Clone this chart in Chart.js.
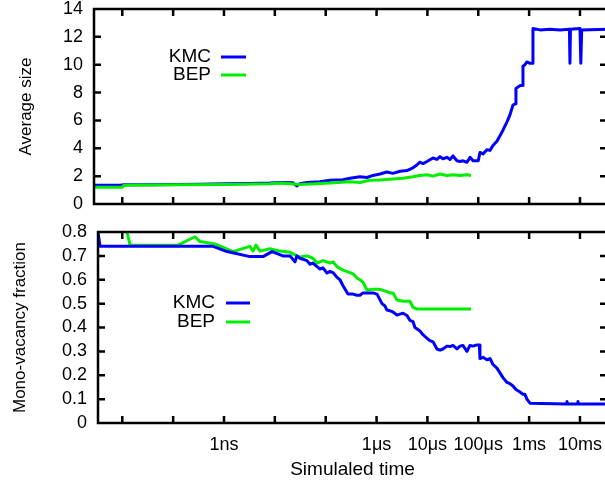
<!DOCTYPE html>
<html>
<head>
<meta charset="utf-8">
<title>Average size and mono-vacancy fraction</title>
<script src="https://cdn.jsdelivr.net/npm/chart.js"></script>
<style>
  html, body { margin: 0; padding: 0; background: #fff; overflow: hidden; }
  #wrap { position: relative; width: 605px; height: 486px; overflow: hidden; }
  canvas { position: absolute; left: 0; }
  #sizeChart { top: 0; }
  #monoChart { top: 220px; }
</style>
</head>
<body>
<div id="wrap">
  <canvas id="sizeChart" width="620" height="214"></canvas>
  <canvas id="monoChart" width="620" height="266"></canvas>
</div>
<script>
// time axis (seconds, log scale)
const timeTicks = [1e-11, 1e-10, 1e-9, 1e-8, 1e-7, 1e-6, 1e-5, 1e-4, 1e-3, 1e-2];
const timeTickLabels = { '1e-9': '1ns', '1e-6': '1μs', '1e-5': '10μs', '1e-4': '100μs', '1e-3': '1ms', '1e-2': '10ms' };
const timeMax = 3.4e-2;

// average cluster size
const sizeKmcTime = [2.78e-12, 9.0e-12, 1.08e-11, 3.5e-11, 1.25e-10, 3.4e-10, 1.15e-9, 3.2e-9, 8.0e-9, 1.26e-8, 2.27e-8,
  2.7e-8, 3.1e-8, 4.3e-8, 7.7e-8, 1.21e-7, 2.19e-7, 3.0e-7, 4.7e-7, 6.5e-7, 8.5e-7, 1.17e-6, 1.6e-6, 2.1e-6, 2.9e-6,
  3.96e-6, 5.2e-6, 6.2e-6, 7.1e-6, 8.2e-6, 9.8e-6, 1.29e-5, 1.54e-5, 1.77e-5, 2.02e-5, 2.42e-5, 2.78e-5, 3.18e-5,
  3.81e-5, 4.37e-5, 5.0e-5, 6.0e-5, 6.9e-5, 7.9e-5, 9.4e-5, 1.0e-4, 1.08e-4, 1.24e-4, 1.48e-4, 1.7e-4, 1.95e-4, 2.33e-4,
  2.67e-4, 3.06e-4, 3.67e-4, 4.2e-4, 4.81e-4, 5.4e-4, 5.51e-4, 6.04e-4, 6.61e-4, 7.4e-4, 7.57e-4, 8.28e-4, 9.06e-4,
  1.04e-3, 1.17e-3, 1.19e-3, 1.63e-3, 2.57e-3, 4.04e-3, 6.2e-3, 6.35e-3, 6.5e-3, 1.0e-2, 1.04e-2, 1.08e-2, 3.4e-2];
const sizeKmc = [1.35, 1.35, 1.38, 1.38, 1.4, 1.42, 1.45, 1.48, 1.5, 1.55, 1.52,
  1.3, 1.45, 1.55, 1.6, 1.7, 1.75, 1.85, 1.95, 1.9, 2.05, 2.15, 2.3, 2.2, 2.35,
  2.4, 2.6, 2.8, 3.0, 2.9, 3.05, 3.3, 3.2, 3.4, 3.25, 3.35, 3.2, 3.45,
  3.1, 3.05, 3.1, 3.0, 3.35, 3.1, 3.1, 3.1, 3.7, 3.6, 3.9, 3.85, 4.2, 4.5,
  4.9, 5.3, 5.9, 6.4, 7.1, 7.2, 8.3, 8.4, 8.5, 8.5, 9.9, 10.0, 10.2,
  10.1, 10.1, 12.6, 12.5, 12.55, 12.5, 12.55, 10.1, 12.55, 12.6, 10.1, 12.5, 12.55];
const sizeBepTime = [2.78e-12, 1.0e-11, 1.08e-11, 1.25e-10, 1.15e-9, 8.0e-9, 1.26e-8, 3.1e-8, 1.21e-7, 3.0e-7, 4.7e-7,
  7.4e-7, 1.17e-6, 2.1e-6, 3.3e-6, 5.2e-6, 7.1e-6, 9.8e-6, 1.29e-5, 1.77e-5, 2.42e-5, 3.18e-5, 4.37e-5, 6.0e-5, 7.2e-5];
const sizeBep = [1.2, 1.2, 1.35, 1.38, 1.4, 1.45, 1.5, 1.4, 1.5, 1.6, 1.55,
  1.7, 1.72, 1.8, 1.85, 1.95, 2.05, 2.1, 2.0, 2.15, 2.05, 2.1, 2.05, 2.1, 2.05];

// mono-vacancy fraction
const monoKmcTime = [3.33e-12, 3.65e-12, 6.1e-10, 1.15e-9, 3.24e-9, 5.85e-9, 8.8e-9, 1.44e-8, 1.99e-8, 2.49e-8, 2.72e-8,
  3.12e-8, 4.28e-8, 4.91e-8, 5.62e-8, 6.74e-8, 7.72e-8, 8.85e-8, 1.06e-7, 1.21e-7, 1.39e-7, 1.67e-7, 1.91e-7, 2.19e-7,
  2.74e-7, 3.44e-7, 4.12e-7, 4.72e-7, 5.41e-7, 6.48e-7, 8.51e-7, 1.02e-6, 1.28e-6, 1.47e-6, 1.6e-6, 1.84e-6, 2.1e-6,
  2.52e-6, 3.31e-6, 3.96e-6, 4.54e-6, 5.2e-6, 5.69e-6, 7.14e-6, 8.18e-6, 9.8e-6, 1.12e-5, 1.29e-5, 1.54e-5, 1.77e-5,
  2.02e-5, 2.42e-5, 2.78e-5, 3.18e-5, 3.81e-5, 4.37e-5, 5.0e-5, 6.0e-5, 6.87e-5, 7.87e-5, 9.42e-5, 1.05e-4, 1.08e-4,
  1.24e-4, 1.48e-4, 1.7e-4, 1.95e-4, 2.33e-4, 2.67e-4, 3.06e-4, 3.67e-4, 4.2e-4, 4.81e-4, 5.51e-4, 6.61e-4, 7.57e-4,
  8.28e-4, 9.06e-4, 1.04e-3, 5.4e-3, 5.55e-3, 5.7e-3, 9.0e-3, 9.12e-3, 9.3e-3, 3.4e-2];
const monoKmc = [0.8, 0.74, 0.74, 0.718, 0.697, 0.697, 0.718, 0.7, 0.7, 0.675, 0.7,
  0.69, 0.68, 0.665, 0.67, 0.655, 0.645, 0.65, 0.628, 0.635, 0.63, 0.61, 0.6, 0.575,
  0.54, 0.54, 0.535, 0.535, 0.545, 0.545, 0.545, 0.54, 0.5, 0.49, 0.473, 0.47, 0.465,
  0.452, 0.46, 0.45, 0.43, 0.425, 0.4, 0.385, 0.37, 0.355, 0.345, 0.34, 0.31, 0.305,
  0.31, 0.322, 0.32, 0.325, 0.31, 0.322, 0.325, 0.3, 0.325, 0.322, 0.327, 0.327, 0.27,
  0.275, 0.265, 0.27, 0.245, 0.23, 0.21, 0.19, 0.17, 0.165, 0.155, 0.14, 0.13, 0.12,
  0.12, 0.1, 0.083, 0.08, 0.09, 0.08, 0.08, 0.09, 0.08, 0.08];
const monoBepTime = [1.2e-11, 1.24e-11, 1.42e-11, 1.25e-10, 2.69e-10, 3.38e-10, 6.65e-10, 1.5e-9, 3.24e-9, 3.72e-9,
  4.26e-9, 5.1e-9, 8.02e-9, 1.26e-8, 1.99e-8, 2.72e-8, 3.12e-8, 4.28e-8, 5.62e-8, 6.74e-8, 8.85e-8, 1.21e-7, 1.39e-7,
  1.67e-7, 2.19e-7, 3.0e-7, 3.44e-7, 4.12e-7, 4.72e-7, 5.41e-7, 6.48e-7, 8.51e-7, 1.17e-6, 1.6e-6, 1.84e-6, 2.1e-6,
  2.52e-6, 3.31e-6, 4.54e-6, 5.2e-6, 6.23e-6, 7.19e-5];
const monoBep = [0.85, 0.8, 0.745, 0.745, 0.78, 0.76, 0.75, 0.718, 0.74, 0.72,
  0.745, 0.72, 0.73, 0.72, 0.715, 0.7, 0.695, 0.7, 0.69, 0.67, 0.68, 0.67, 0.675,
  0.655, 0.64, 0.63, 0.625, 0.607, 0.6, 0.59, 0.557, 0.56, 0.56, 0.55, 0.545, 0.545,
  0.515, 0.51, 0.51, 0.485, 0.477, 0.477];

const KMC_COLOR = '#0000ff';
const BEP_COLOR = '#00ee00';
const FONT = '"Liberation Sans", Arial, sans-serif';

function pairs(xs, ys) {
  return xs.map((x, i) => ({ x: x, y: ys[i] }));
}

// gnuplot-style box with inward ticks on all four sides
const framePlugin = {
  id: 'frame',
  afterDatasetsDraw(chart) {
    const { ctx, chartArea: a, scales } = chart;
    ctx.save();
    ctx.strokeStyle = '#000';
    ctx.lineWidth = 2.5;
    ctx.beginPath();
    timeTicks.forEach(t => {
      const px = scales.x.getPixelForValue(t);
      if (px < a.left + 2 || px > a.right - 2) return;
      ctx.moveTo(px, a.bottom); ctx.lineTo(px, a.bottom - 7);
      ctx.moveTo(px, a.top); ctx.lineTo(px, a.top + 7);
    });
    scales.y.ticks.forEach(t => {
      const py = scales.y.getPixelForValue(t.value);
      if (py < a.top + 2 || py > a.bottom - 2) return;
      ctx.moveTo(a.left, py); ctx.lineTo(a.left + 7, py);
      ctx.moveTo(a.right, py); ctx.lineTo(a.right - 7, py);
    });
    ctx.stroke();
    ctx.strokeRect(a.left, a.top, a.right - a.left, a.bottom - a.top);
    ctx.restore();
  }
};

// key drawn inside the plot, text right-aligned before the line sample
const keyPlugin = {
  id: 'key',
  afterDraw(chart, args, opts) {
    const ctx = chart.ctx;
    ctx.save();
    ctx.font = '19px ' + FONT;
    ctx.textAlign = 'right';
    ctx.textBaseline = 'middle';
    chart.data.datasets.forEach((ds, i) => {
      const y = opts.y + i * opts.gap;
      ctx.fillStyle = '#000';
      ctx.fillText(ds.label, opts.textRight, y);
      ctx.strokeStyle = ds.borderColor;
      ctx.lineWidth = 3;
      ctx.beginPath();
      ctx.moveTo(opts.x0, y);
      ctx.lineTo(opts.x1, y);
      ctx.stroke();
    });
    ctx.restore();
  }
};

function timeAxis(min, showLabels) {
  return {
    type: 'logarithmic',
    min: min,
    max: timeMax,
    display: showLabels,
    grid: { display: false, drawTicks: false },
    border: { display: false },
    afterBuildTicks: scale => { scale.ticks = timeTicks.map(v => ({ value: v })); },
    afterFit: scale => {
      if (showLabels) scale.height = 63;
      scale.paddingLeft = 0;
      scale.paddingRight = 0;
    },
    ticks: {
      autoSkip: false,
      maxRotation: 0,
      padding: 11,
      color: '#000',
      font: { family: FONT, size: 18 },
      callback: v => timeTickLabels[v.toExponential().replace('+', '')] || ''
    },
    title: {
      display: true,
      text: 'Simulaled time',
      color: '#000',
      font: { family: FONT, size: 19 },
      padding: { top: 0, bottom: 5 }
    }
  };
}

function valueAxis(max, step, width, title, titlePad) {
  return {
    min: 0,
    max: max,
    grid: { display: false, drawTicks: false },
    border: { display: false },
    afterFit: scale => {
      // plot box placed by the layout padding alone
      scale.width = width;
      scale.paddingTop = 0;
      scale.paddingBottom = 0;
    },
    ticks: {
      stepSize: step,
      autoSkip: false,
      padding: 11,
      color: '#000',
      font: { family: FONT, size: 18 },
      callback: v => String(+v.toFixed(1))
    },
    title: {
      display: true,
      text: title,
      color: '#000',
      font: { family: FONT, size: 17 },
      padding: { top: titlePad, bottom: 0 }
    }
  };
}

function lineSet(label, xs, ys, color, order) {
  return {
    label: label,
    data: pairs(xs, ys),
    borderColor: color,
    backgroundColor: color,
    borderWidth: 3,
    borderJoinStyle: 'round',
    pointRadius: 0,
    tension: 0,
    order: order
  };
}

const baseOptions = {
  responsive: false,
  animation: false,
  devicePixelRatio: 1,
  plugins: { legend: { display: false }, tooltip: { enabled: false } }
};

new Chart(document.getElementById('sizeChart'), {
  type: 'line',
  data: {
    datasets: [
      lineSet('KMC', sizeKmcTime, sizeKmc, KMC_COLOR, 1),
      lineSet('BEP', sizeBepTime, sizeBep, BEP_COLOR, 0)
    ]
  },
  options: {
    ...baseOptions,
    layout: { padding: { top: 9, bottom: 10, left: 0, right: 13 } },
    plugins: { ...baseOptions.plugins, key: { y: 57, gap: 18, textRight: 211, x0: 221, x1: 246 } },
    scales: {
      x: timeAxis(2.78e-12, false),
      y: valueAxis(14, 2, 94, 'Average size', 16)
    }
  },
  plugins: [framePlugin, keyPlugin]
});

new Chart(document.getElementById('monoChart'), {
  type: 'line',
  data: {
    datasets: [
      lineSet('KMC', monoKmcTime, monoKmc, KMC_COLOR, 0),
      lineSet('BEP', monoBepTime, monoBep, BEP_COLOR, 1)
    ]
  },
  options: {
    ...baseOptions,
    layout: { padding: { top: 12, bottom: 0, left: 0, right: 13 } },
    plugins: { ...baseOptions.plugins, key: { y: 83, gap: 19, textRight: 215, x0: 226, x1: 250 } },
    scales: {
      x: timeAxis(3.33e-12, true),
      y: valueAxis(0.8, 0.1, 98, 'Mono-vacancy fraction', 10)
    }
  },
  plugins: [framePlugin, keyPlugin]
});
</script>
</body>
</html>
